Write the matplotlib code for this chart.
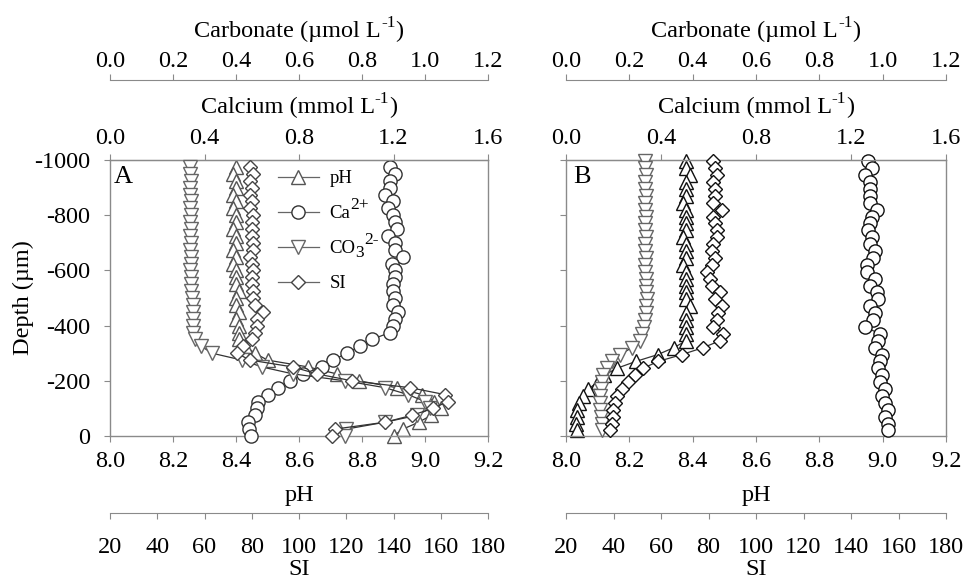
import matplotlib
matplotlib.use('Agg')
import matplotlib.pyplot as plt
from matplotlib.lines import Line2D

plt.rcParams['font.family'] = 'Liberation Serif'
plt.rcParams['axes.unicode_minus'] = False
plt.rcParams['font.size'] = 17.5

# ---- profile A: depth (um) and the four measured quantities ----
depth_a = [-975, -950, -925, -900, -875, -850, -825, -800, -775, -750,
           -725, -700, -675, -650, -625, -600, -575, -550, -525, -500,
           -475, -450, -425, -400, -375, -350, -325, -300, -275, -250,
           -225, -200, -175, -150, -125, -100, -75, -50, -25, 0]
ph_a = [8.40, 8.39, 8.40, 8.40, 8.39, 8.40, 8.39, 8.40, 8.40, 8.39,
        8.40, 8.40, 8.39, 8.40, 8.39, 8.40, 8.40, 8.40, 8.41, 8.40,
        8.40, 8.41, 8.40, 8.41, 8.41, 8.41, 8.43, 8.46, 8.50, 8.63,
        8.72, 8.79, 8.91, 8.99, 9.03, 9.05, 9.02, 8.98, 8.93, 8.90]
ca_a = [1.185, 1.206, 1.185, 1.185, 1.164, 1.199, 1.178, 1.199, 1.206, 1.213,
        1.178, 1.206, 1.206, 1.239, 1.192, 1.206, 1.206, 1.199, 1.199, 1.206,
        1.199, 1.220, 1.206, 1.199, 1.185, 1.109, 1.058, 1.003, 0.944, 0.897,
        0.817, 0.762, 0.711, 0.669, 0.626, 0.622, 0.614, 0.584, 0.590, 0.597]
co3_a = [0.254, 0.254, 0.256, 0.254, 0.254, 0.256, 0.254, 0.256, 0.254, 0.256,
         0.254, 0.256, 0.254, 0.256, 0.256, 0.254, 0.256, 0.258, 0.258, 0.260,
         0.262, 0.263, 0.264, 0.265, 0.265, 0.270, 0.290, 0.324, 0.419, 0.483,
         0.581, 0.746, 0.873, 0.946, 1.000, 1.016, 0.975, 0.873, 0.750, 0.746]
si_a = [79.3, 80.7, 79.3, 80.0, 79.3, 80.0, 79.3, 80.7, 80.0, 80.0,
        80.0, 80.7, 80.7, 79.3, 80.0, 80.7, 80.0, 80.0, 80.7, 80.7,
        81.4, 84.9, 82.1, 82.1, 81.4, 80.0, 76.5, 73.6, 79.3, 97.5,
        107.6, 122.4, 147.0, 161.8, 163.0, 156.7, 147.8, 136.4, 115.2, 114.0]

# ---- profile B ----
depth_b = [-995, -970, -945, -920, -895, -870, -845, -820, -795, -770,
           -745, -720, -695, -670, -645, -620, -595, -570, -545, -520,
           -495, -470, -445, -420, -395, -370, -345, -320, -295, -270,
           -245, -220, -195, -170, -145, -120, -95, -70, -45, -20]
ph_b = [8.38, 8.38, 8.39, 8.38, 8.38, 8.38, 8.37, 8.38, 8.38, 8.38,
        8.38, 8.37, 8.38, 8.38, 8.38, 8.37, 8.38, 8.38, 8.38, 8.38,
        8.38, 8.39, 8.38, 8.38, 8.38, 8.38, 8.38, 8.34, 8.29, 8.22,
        8.16, 8.12, 8.10, 8.07, 8.055, 8.04, 8.035, 8.035, 8.03, 8.035]
ca_b = [1.273, 1.287, 1.259, 1.280, 1.280, 1.280, 1.280, 1.308, 1.287, 1.280,
        1.273, 1.287, 1.280, 1.301, 1.294, 1.266, 1.266, 1.301, 1.280, 1.308,
        1.315, 1.280, 1.301, 1.294, 1.259, 1.322, 1.315, 1.301, 1.329, 1.322,
        1.315, 1.329, 1.322, 1.343, 1.329, 1.343, 1.357, 1.343, 1.357, 1.357]
co3_b = [0.249, 0.249, 0.252, 0.249, 0.249, 0.252, 0.249, 0.249, 0.252, 0.249,
         0.249, 0.252, 0.249, 0.249, 0.252, 0.249, 0.249, 0.252, 0.252, 0.252,
         0.255, 0.252, 0.252, 0.249, 0.245, 0.240, 0.234, 0.208, 0.171, 0.145,
         0.130, 0.117, 0.113, 0.110, 0.107, 0.107, 0.108, 0.110, 0.113, 0.113]
si_b = [82.0, 82.7, 83.4, 82.0, 82.7, 82.7, 82.0, 85.6, 82.0, 82.7,
        83.4, 83.4, 82.0, 81.3, 82.7, 81.3, 79.2, 80.6, 81.3, 84.8,
        82.7, 85.6, 84.2, 83.4, 82.0, 86.2, 84.8, 77.7, 68.8, 58.7,
        52.4, 49.1, 46.1, 43.6, 41.5, 40.7, 39.8, 39.8, 39.4, 38.5]

ph_ticks = [8.0, 8.2, 8.4, 8.6, 8.8, 9.0, 9.2]
ca_ticks = [0.0, 0.4, 0.8, 1.2, 1.6]
co3_ticks = [0.0, 0.2, 0.4, 0.6, 0.8, 1.0, 1.2]
si_ticks = [20, 40, 60, 80, 100, 120, 140, 160, 180]
depth_ticks = [-1000, -800, -600, -400, -200, 0]

SPINE = '#8a8a8a'
PX = 0.72  # points per pixel at dpi 100


def only_spine(a, which):
    for s in ['top', 'bottom', 'left', 'right']:
        a.spines[s].set_visible(s == which)
    a.spines[which].set_color(SPINE)


def add_tail(ax, base, parts, zorder=6):
    """Chain small pieces (super/subscripts, closing bracket) after a Text."""
    prev = base
    for s, fs, yfrac in parts:
        prev = ax.annotate(s, xy=(1, yfrac), xycoords=(prev, base), fontsize=fs,
                           ha='left', va='bottom', zorder=zorder, annotation_clip=False)
    return prev


def unit_title(ax, name, y):
    # "<name> L" + raised "-1" + ")"
    t = ax.text(0.47, y, name + ' L', transform=ax.transAxes, ha='center',
                va='baseline', fontsize=17.5)
    add_tail(ax, t, [('-1', 12.5, 0.54), (')', 17.5, 0.0)])


def make_panel(fig, rect, depth, ph, ca, co3, si, letter, edges, show_depth, legend=False):
    ax = fig.add_axes(rect)
    ax_ca = ax.twiny()
    ax_co3 = ax.twiny()
    ax_si = ax.twiny()

    # pH on the bottom spine, depth on the left
    for s in ax.spines.values():
        s.set_color(SPINE)
        s.set_linewidth(1.0)
    ax.set_xlim(8.0, 9.2)
    ax.set_ylim(0, -1000)
    ax.set_xticks(ph_ticks)
    ax.set_xticklabels(['%.1f' % t for t in ph_ticks])
    ax.set_yticks(depth_ticks)
    ax.tick_params(axis='x', direction='out', length=4, color=SPINE, pad=7)
    ax.tick_params(axis='y', direction='out', length=4, color=SPINE, pad=10,
                   labelleft=show_depth)
    ax.set_xlabel('pH', labelpad=9)
    if show_depth:
        ax.set_ylabel('Depth (µm)', labelpad=0)

    # calcium on the top spine
    only_spine(ax_ca, 'top')
    ax_ca.set_xlim(0, 1.6)
    ax_ca.set_xticks(ca_ticks)
    ax_ca.set_xticklabels(['%.1f' % t for t in ca_ticks])
    ax_ca.tick_params(axis='x', direction='out', length=4, color=SPINE, pad=4)

    # carbonate on a detached top spine
    only_spine(ax_co3, 'top')
    ax_co3.spines['top'].set_position(('outward', 80 * PX))
    ax_co3.set_xlim(0, 1.2)
    ax_co3.set_xticks(co3_ticks)
    ax_co3.set_xticklabels(['%.1f' % t for t in co3_ticks])
    ax_co3.tick_params(axis='x', direction='out', length=4, color=SPINE, pad=2)

    unit_title(ax_si, 'Calcium (mmol', 1.170)
    unit_title(ax_si, 'Carbonate (µmol', 1.445)

    # saturation index on a detached bottom spine
    only_spine(ax_si, 'bottom')
    ax_si.spines['bottom'].set_position(('outward', 77 * PX))
    ax_si.xaxis.set_ticks_position('bottom')
    ax_si.xaxis.set_label_position('bottom')
    ax_si.set_xlim(20, 180)
    ax_si.set_xticks(si_ticks)
    ax_si.tick_params(axis='x', direction='out', length=4, color=SPINE, pad=13)
    ax_si.set_xlabel('SI', labelpad=1)

    for a in (ax_ca, ax_co3, ax_si):
        a.set_ylim(0, -1000)

    ms = 9.5
    kw = dict(lw=0.9, color='#333333', markerfacecolor='white', markersize=ms,
              markeredgewidth=1.0, clip_on=False)
    ax.plot(ph, depth, marker='^', markeredgecolor=edges[0], **kw)
    ax_ca.plot(ca, depth, marker='o', markeredgecolor=edges[1], **kw)
    ax_co3.plot(co3, depth, marker='v', markeredgecolor=edges[2], **kw)
    ax_si.plot(si, depth, marker='D', markeredgecolor=edges[3],
               **{**kw, 'markersize': ms * 0.8})

    ax.text(0.035 if letter == 'A' else 0.042, 0.938, letter, transform=ax.transAxes,
            ha='center', va='center', fontsize=19)

    if legend:
        handles = [
            Line2D([], [], color='#666666', lw=0.9, marker='^', markersize=ms,
                   markerfacecolor='white', markeredgecolor=edges[0]),
            Line2D([], [], color='#666666', lw=0.9, marker='o', markersize=ms,
                   markerfacecolor='white', markeredgecolor=edges[1]),
            Line2D([], [], color='#666666', lw=0.9, marker='v', markersize=ms,
                   markerfacecolor='white', markeredgecolor=edges[2]),
            Line2D([], [], color='#666666', lw=0.9, marker='D', markersize=ms * 0.8,
                   markerfacecolor='white', markeredgecolor=edges[3]),
        ]
        labels = ['pH', 'Ca', 'CO', 'SI']
        leg = ax_si.legend(handles, labels, loc='upper left', bbox_to_anchor=(0.444, 0.963),
                           frameon=False, borderpad=0, borderaxespad=0, handlelength=2.2,
                           handletextpad=0.55, labelspacing=0.95, fontsize=13.5)
        texts = leg.get_texts()
        add_tail(ax_si, texts[1], [('2+', 12.5, 0.53)])
        sub = add_tail(ax_si, texts[2], [('3', 12.5, -0.24)])
        ax_si.annotate('2-', xy=(1, 0.53), xycoords=(sub, texts[2]), fontsize=12.5,
                       ha='left', va='bottom', zorder=6, annotation_clip=False)
    return ax


fig = plt.figure(figsize=(9.66, 5.79), dpi=100)
make_panel(fig, [110 / 966, 143 / 579, 378 / 966, 276 / 579], depth_a, ph_a, ca_a, co3_a, si_a,
           'A', ['#555555', '#333333', '#666666', '#444444'], True, legend=True)
make_panel(fig, [566 / 966, 143 / 579, 380 / 966, 276 / 579], depth_b, ph_b, ca_b, co3_b, si_b,
           'B', ['#111111', '#111111', '#666666', '#111111'], False)

fig.savefig('out.png', dpi=100)
